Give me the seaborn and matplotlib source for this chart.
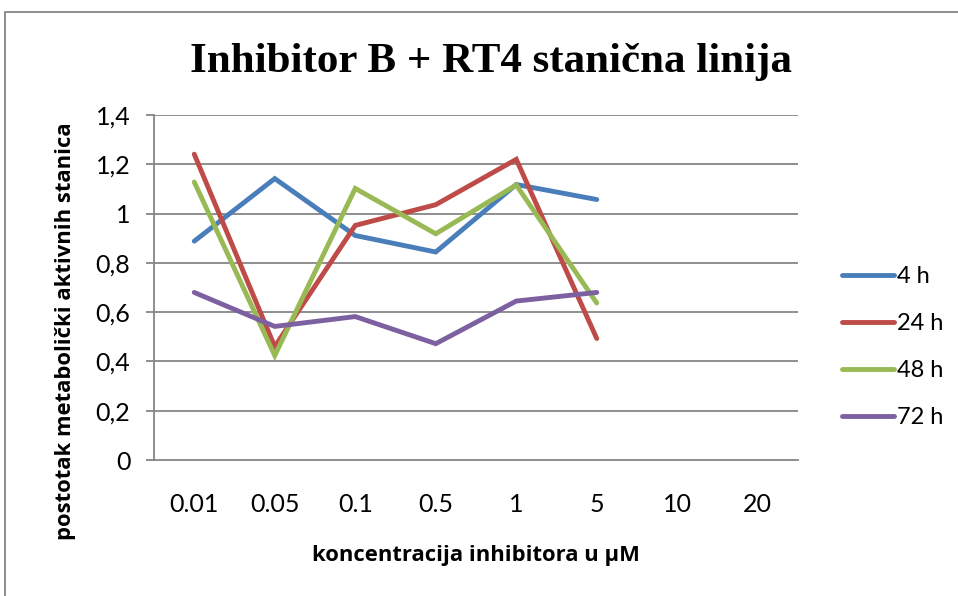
import matplotlib
matplotlib.use("Agg")
import matplotlib.pyplot as plt
import seaborn as sns
import pandas as pd
from matplotlib.patches import Rectangle

categories = ["0.01", "0.05", "0.1", "0.5", "1", "5", "10", "20"]
h4 = [0.888, 1.142, 0.911, 0.844, 1.118, 1.057]
h24 = [1.241, 0.460, 0.952, 1.036, 1.220, 0.493]
h48 = [1.128, 0.424, 1.102, 0.918, 1.116, 0.637]
h72 = [0.680, 0.542, 0.582, 0.472, 0.645, 0.680]
series_names = ["4 h", "24 h", "48 h", "72 h"]
colors = ["#4a7ebb", "#be4b48", "#98b954", "#7d60a0"]
yticks = [0, 0.2, 0.4, 0.6, 0.8, 1.0, 1.2, 1.4]
ytick_labels = ["0", "0,2", "0,4", "0,6", "0,8", "1", "1,2", "1,4"]

rows = []
for name, vals in zip(series_names, [h4, h24, h48, h72]):
    for i, v in enumerate(vals):
        rows.append({"idx": i, "val": v, "series": name})
df = pd.DataFrame(rows)

sns.set_theme(style="white")
plt.rcParams["font.family"] = ["Lato", "DejaVu Sans"]
plt.rcParams["text.color"] = "black"
plt.rcParams["xtick.color"] = "black"
plt.rcParams["ytick.color"] = "black"
plt.rcParams["axes.labelcolor"] = "black"

fig = plt.figure(figsize=(9.58, 5.96), dpi=100)
ax = fig.add_axes([154 / 958, 1 - 460 / 596, (798 - 154) / 958, (460 - 115) / 596])

for y in yticks[1:]:
    ax.axhline(y, color="#868686", lw=1.3, zorder=0)

sns.lineplot(data=df, x="idx", y="val", hue="series", palette=colors,
             hue_order=series_names, lw=3.5, ax=ax, legend=True,
             solid_capstyle="round", solid_joinstyle="miter")

fs = 18
ax.set_xlim(-0.5, 7.5)
ax.set_ylim(0, 1.4)
ax.set_xticks(range(len(categories)))
ax.set_xticklabels(categories, fontsize=fs)
ax.set_yticks(yticks)
ax.set_yticklabels(ytick_labels, fontsize=fs)
ax.tick_params(axis="y", length=6, width=1.3, color="#868686", left=True, pad=11)
ax.tick_params(axis="x", length=0, pad=24)
for s in ["top", "right"]:
    ax.spines[s].set_visible(False)
ax.spines["left"].set_color("#868686")
ax.spines["left"].set_linewidth(1.3)
ax.spines["bottom"].set_color("#868686")
ax.spines["bottom"].set_linewidth(1.3)

lab_font = dict(family=["Open Sans", "DejaVu Sans"], fontsize=15.8, fontweight="bold")
ax.set_xlabel("koncentracija inhibitora u µM", **lab_font)
ax.set_ylabel("postotak metabolički aktivnih stanica", **lab_font)
ax.xaxis.set_label_coords(0.5, -(545 - 460) / 345, transform=ax.transAxes)
ax.yaxis.set_label_coords(-(154 - 76) / 644, (460 - 331) / 345, transform=ax.transAxes)

leg = ax.legend(loc="center left", bbox_to_anchor=(1.035, 0.328), frameon=False,
                fontsize=17, handlelength=2.2, handletextpad=0.15, labelspacing=1.1)
for line in leg.get_lines():
    line.set_linewidth(3.5)

fig.text(491 / 958, 1 - 62 / 596, "Inhibitor B + RT4 stanična linija",
         family="Liberation Serif", fontweight="bold", fontsize=31,
         ha="center", va="center", color="black")

fig.patches.append(Rectangle((5 / 958, -0.05), 1.2, 1.05 - 12 / 596,
                             transform=fig.transFigure, fill=False,
                             edgecolor="#868686", lw=1.3))

fig.savefig("out.png", dpi=100)
